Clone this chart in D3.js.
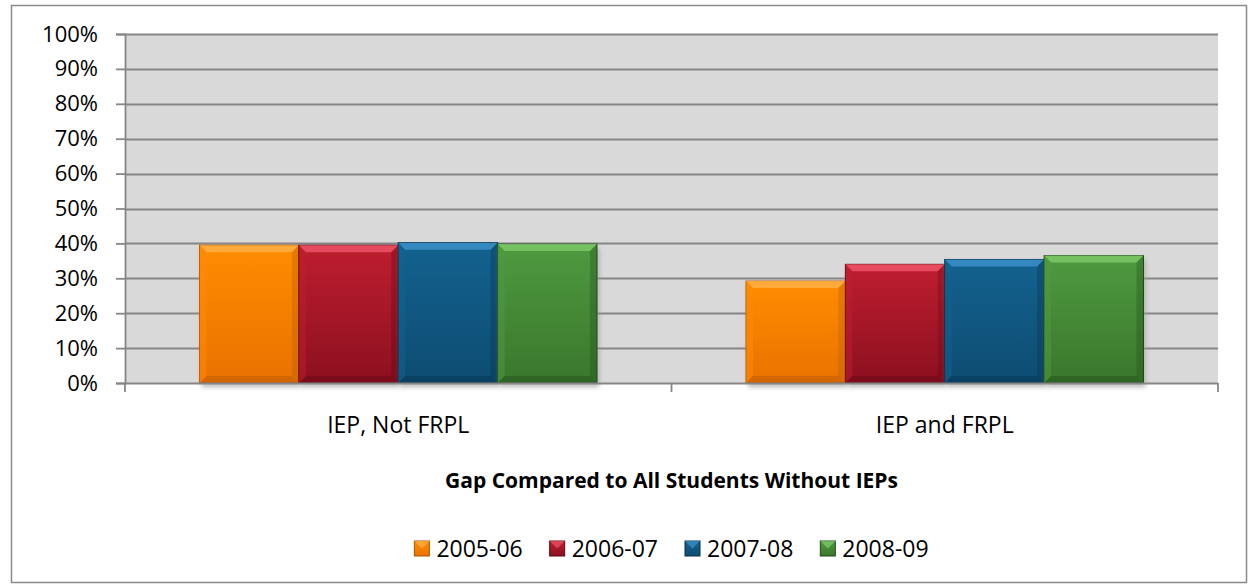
<!DOCTYPE html>
<html>
<head>
<meta charset="utf-8">
<script src="https://cdn.jsdelivr.net/npm/d3@7"></script>
<style>
  body { margin: 0; background: #fff; }
  text { font-family: "Open Sans", sans-serif; fill: #000; }
</style>
</head>
<body>
<div id="chart"></div>
<script>
var width = 1248,
    height = 584;

// data
var categories = ["IEP, Not FRPL", "IEP and FRPL"];
var seasons = ["2005-06", "2006-07", "2007-08", "2008-09"];
var gap0506 = [0.395, 0.292];
var gap0607 = [0.395, 0.340];
var gap0708 = [0.402, 0.354];
var gap0809 = [0.398, 0.365];
var yTicks = [0, 0.1, 0.2, 0.3, 0.4, 0.5, 0.6, 0.7, 0.8, 0.9, 1];
var xTitle = "Gap Compared to All Students Without IEPs";

var seriesValues = [gap0506, gap0607, gap0708, gap0809];

// light, mid, dark per series
var colors = [
  { light: "#ffb24a", top: "#ff8c00", bottom: "#e87200", dark: "#b35300" },
  { light: "#f0566a", top: "#be1e2f", bottom: "#8c1020", dark: "#5e0813" },
  { light: "#3d94cc", top: "#13628f", bottom: "#0d4c72", dark: "#06304a" },
  { light: "#80cc6a", top: "#4f9a40", bottom: "#3a772c", dark: "#1f4a16" }
];

var plot = { left: 125, right: 1218, top: 34, bottom: 383 };

var x0 = d3.scaleBand()
    .domain(categories)
    .range([plot.left, plot.right]);

var x1 = d3.scaleBand()
    .domain(seasons)
    .range([0, x0.bandwidth()])
    .paddingOuter(0.75);

var y = d3.scaleLinear()
    .domain([0, 1])
    .range([plot.bottom, plot.top]);

var svg = d3.select("#chart").append("svg")
    .attr("width", width)
    .attr("height", height);

var defs = svg.append("defs");

colors.forEach(function(c, i) {
  var g = defs.append("linearGradient")
      .attr("id", "grad" + i)
      .attr("x1", 0).attr("y1", 0).attr("x2", 0).attr("y2", 1);
  g.append("stop").attr("offset", "0%").attr("stop-color", c.top);
  g.append("stop").attr("offset", "100%").attr("stop-color", c.bottom);
});

defs.append("filter")
    .attr("id", "shadow")
    .attr("x", "-10%").attr("y", "-10%").attr("width", "120%").attr("height", "130%")
  .append("feGaussianBlur")
    .attr("stdDeviation", 2.5);

// outer chart border
svg.append("rect")
    .attr("x", 11.5).attr("y", 5.5)
    .attr("width", 1235).attr("height", 577)
    .attr("fill", "#fff")
    .attr("stroke", "#8a8a8a")
    .attr("stroke-width", 1.5);

// plot area
svg.append("rect")
    .attr("x", plot.left).attr("y", plot.top)
    .attr("width", plot.right - plot.left)
    .attr("height", plot.bottom - plot.top)
    .attr("fill", "#d9d9d9");

// gridlines
svg.append("g")
  .selectAll("line")
  .data(yTicks.slice(1))
  .join("line")
    .attr("x1", plot.left).attr("x2", plot.right)
    .attr("y1", function(d) { return Math.round(y(d)) + 0.5; })
    .attr("y2", function(d) { return Math.round(y(d)) + 0.5; })
    .attr("stroke", "#868686")
    .attr("stroke-width", 1.8);

// y axis
var yAxis = svg.append("g")
    .attr("transform", "translate(" + plot.left + ",0)")
    .call(d3.axisLeft(y).tickValues(yTicks).tickFormat(d3.format(".0%")).tickSize(9).tickPadding(18));
yAxis.select(".domain").attr("stroke", "#868686").attr("stroke-width", 1.8);
yAxis.selectAll(".tick line").attr("stroke", "#868686").attr("stroke-width", 1.8);
yAxis.selectAll(".tick text")
    .attr("font-family", "Open Sans, sans-serif")
    .attr("font-size", 22)
    .attr("fill", "#000");

// bars
var groups = svg.append("g")
  .selectAll("g")
  .data(categories)
  .join("g")
    .attr("transform", function(d) { return "translate(" + x0(d) + ",0)"; });

var bars = groups.selectAll("g")
  .data(function(cat, ci) {
    return seasons.map(function(s, si) {
      return { season: s, si: si, value: seriesValues[si][ci] };
    });
  })
  .join("g");

// soft shadow under each bar
bars.append("rect")
    .attr("x", function(d) { return x1(d.season) + 2; })
    .attr("y", function(d) { return y(d.value) + 4; })
    .attr("width", x1.bandwidth())
    .attr("height", function(d) { return y(0) - y(d.value); })
    .attr("fill", "#9a9a9a")
    .attr("opacity", 0.7)
    .attr("filter", "url(#shadow)");

bars.append("rect")
    .attr("x", function(d) { return x1(d.season); })
    .attr("y", function(d) { return y(d.value); })
    .attr("width", x1.bandwidth())
    .attr("height", function(d) { return y(0) - y(d.value); })
    .attr("fill", function(d) { return "url(#grad" + d.si + ")"; })
    .attr("stroke", function(d) { return colors[d.si].dark; })
    .attr("stroke-width", 1);

// bevel edges
var b = 7;
function bevel(side) {
  return function(d) {
    var x = x1(d.season), w = x1.bandwidth(), t = y(d.value), h = y(0) - t;
    if (side == "top") return [[x, t], [x + w, t], [x + w - b, t + b], [x + b, t + b]];
    if (side == "left") return [[x, t], [x + b, t + b], [x + b, t + h - b], [x, t + h]];
    if (side == "right") return [[x + w, t], [x + w, t + h], [x + w - b, t + h - b], [x + w - b, t + b]];
    return [[x, t + h], [x + b, t + h - b], [x + w - b, t + h - b], [x + w, t + h]];
  };
}
var line = d3.line();
bars.append("path")
    .attr("d", function(d) { return line(bevel("top")(d)) + "Z"; })
    .attr("fill", function(d) { return colors[d.si].light; })
    .attr("opacity", 0.8);
bars.append("path")
    .attr("d", function(d) { return line(bevel("left")(d)) + "Z"; })
    .attr("fill", function(d) { return colors[d.si].top; })
    .attr("opacity", 0.5);
bars.append("path")
    .attr("d", function(d) { return line(bevel("right")(d)) + "Z"; })
    .attr("fill", function(d) { return colors[d.si].dark; })
    .attr("opacity", 0.3);
bars.append("path")
    .attr("d", function(d) { return line(bevel("bottom")(d)) + "Z"; })
    .attr("fill", function(d) { return colors[d.si].dark; })
    .attr("opacity", 0.4);

// x axis
var xAxis = svg.append("g")
    .attr("transform", "translate(0," + plot.bottom + ")");
xAxis.append("line")
    .attr("x1", plot.left).attr("x2", plot.right)
    .attr("y1", 0.5).attr("y2", 0.5)
    .attr("stroke", "#868686").attr("stroke-width", 1.8);
var bounds = categories.map(function(c) { return x0(c); }).concat([plot.right]);
xAxis.selectAll("line.tick")
  .data(bounds)
  .join("line")
    .attr("class", "tick")
    .attr("x1", function(d) { return d; }).attr("x2", function(d) { return d; })
    .attr("y1", 0).attr("y2", 9)
    .attr("stroke", "#868686").attr("stroke-width", 1.8);
xAxis.selectAll("text")
  .data(categories)
  .join("text")
    .attr("x", function(d) { return x0(d) + x0.bandwidth() / 2; })
    .attr("y", 50)
    .attr("text-anchor", "middle")
    .attr("font-size", 23)
    .text(function(d) { return d; });

svg.append("text")
    .attr("x", (plot.left + plot.right) / 2)
    .attr("y", 488)
    .attr("text-anchor", "middle")
    .attr("font-size", 21)
    .attr("font-weight", "bold")
    .text(xTitle);

// legend
var legend = svg.append("g");
var items = legend.selectAll("g")
  .data(seasons)
  .join("g");
items.append("rect")
    .attr("width", 15).attr("height", 15)
    .attr("y", -16)
    .attr("fill", function(d, i) { return "url(#grad" + i + ")"; })
    .attr("stroke", function(d, i) { return colors[i].dark; });
items.append("path")
    .attr("d", "M0,-16L15,-16L7.5,-8.5Z")
    .attr("fill", function(d, i) { return colors[i].light; })
    .attr("opacity", 0.7);
items.append("text")
    .attr("x", 22)
    .attr("y", 0)
    .attr("font-size", 23)
    .text(function(d) { return d; });

var offs = [], acc = 0;
items.each(function() {
  offs.push(acc);
  acc += this.getBBox().width + 27;
});
acc -= 27;
var start = (plot.left + plot.right) / 2 - acc / 2;
items.attr("transform", function(d, i) { return "translate(" + (start + offs[i]) + ",557)"; });
</script>
</body>
</html>
